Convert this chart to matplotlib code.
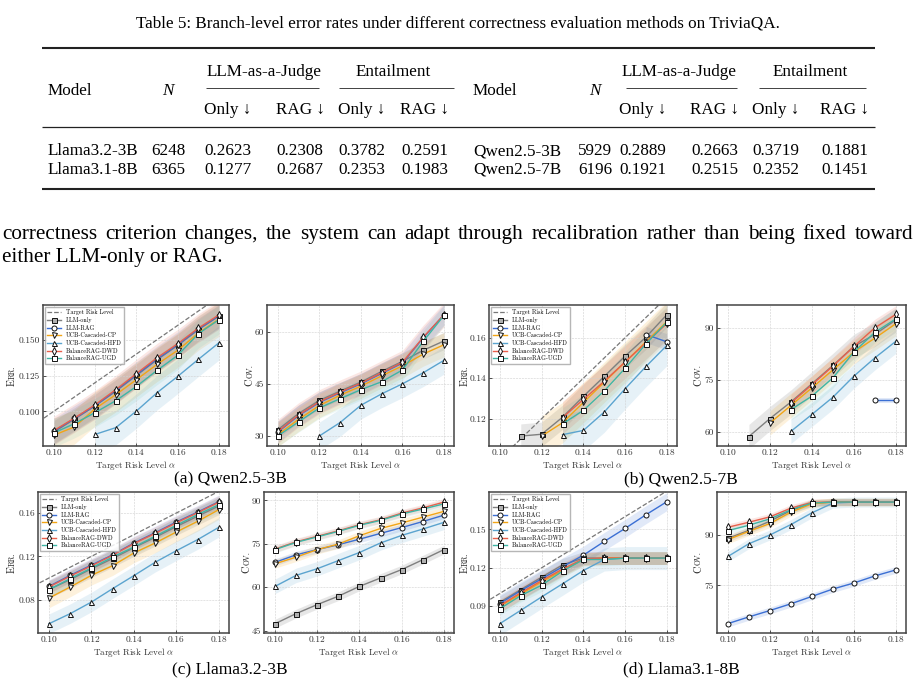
import numpy as np
import matplotlib
matplotlib.use("Agg")
import matplotlib.pyplot as plt
from matplotlib.ticker import FormatStrFormatter

W, H = 915, 681

plt.rcParams["font.family"] = ["cmr10", "DejaVu Serif"]
plt.rcParams["mathtext.fontset"] = "cm"
plt.rcParams["axes.formatter.use_mathtext"] = True

# ---------- table data ----------
table_caption = "Table 5: Branch-level error rates under different correctness evaluation methods on TriviaQA."
left_models = ["Llama3.2-3B", "Llama3.1-8B"]
left_n = [6248, 6365]
left_scores = [[0.2623, 0.2308, 0.3782, 0.2591],
               [0.1277, 0.2687, 0.2353, 0.1983]]
right_models = ["Qwen2.5-3B", "Qwen2.5-7B"]
right_n = [5929, 6196]
right_scores = [[0.2889, 0.2663, 0.3719, 0.1881],
                [0.1921, 0.2515, 0.2352, 0.1451]]

paragraph = ["correctness criterion changes, the system can adapt through recalibration rather than being fixed toward",
             "either LLM-only or RAG."]

# ---------- chart data ----------
alphas = [0.10, 0.11, 0.12, 0.13, 0.14, 0.15, 0.16, 0.17, 0.18]
methods = ["LLM-only", "LLM-RAG", "UCB-Cascaded-CP", "UCB-Cascaded-HFD", "BalanceRAG-DWD", "BalanceRAG-UGD"]
colors = ["#7f7f7f", "#3b6fd4", "#f2a516", "#5ba4cf", "#e8604c", "#3fb5a5"]
markers = ["s", "o", "v", "^", "d", "s"]
band_alpha = [0.18, 0.15, 0.15, 0.15, 0.15, 0.10]
N_ = None

qwen3_err = {
    "LLM-only": [0.0855, 0.0945, 0.1038, 0.1140, 0.1250, 0.1360, 0.1460, 0.1570, 0.1665],
    "LLM-RAG": [0.0860, 0.0950, 0.1040, 0.1145, 0.1255, 0.1365, 0.1465, 0.1575, 0.1668],
    "UCB-Cascaded-CP": [0.0833, 0.0891, 0.1018, 0.1116, 0.1221, 0.1328, 0.1426, 0.1547, 0.1644],
    "UCB-Cascaded-HFD": [N_, N_, 0.0839, 0.0886, 0.1002, 0.1130, 0.1244, 0.1363, 0.1479],
    "BalanceRAG-DWD": [0.0865, 0.0953, 0.1046, 0.1151, 0.1263, 0.1374, 0.1472, 0.1581, 0.1674],
    "BalanceRAG-UGD": [0.0849, 0.0914, 0.0991, 0.1074, 0.1174, 0.1286, 0.1391, 0.1542, 0.1640],
}
qwen3_cov = {
    "LLM-only": [31.7, 36.4, 40.2, 42.9, 45.5, 48.6, 51.5, 54.7, 57.4],
    "LLM-RAG": [31.0, 35.8, 39.6, 42.4, 45.0, 48.0, 51.0, 58.3, 65.0],
    "UCB-Cascaded-CP": [30.3, 34.7, 38.7, 41.7, 44.3, 47.3, 50.2, 53.6, 56.3],
    "UCB-Cascaded-HFD": [N_, N_, 29.9, 33.8, 38.8, 42.1, 45.0, 48.2, 51.8],
    "BalanceRAG-DWD": [31.2, 36.0, 39.8, 42.6, 45.2, 48.2, 51.2, 58.5, 65.0],
    "BalanceRAG-UGD": [29.9, 34.0, 38.0, 40.7, 43.3, 45.6, 49.0, 57.3, 64.8],
}
qwen7_err = {
    "LLM-only": [N_, 0.1114, 0.1123, 0.1207, 0.1310, 0.1409, 0.1509, 0.1603, 0.1714],
    "LLM-RAG": [N_, N_, N_, N_, N_, N_, N_, 0.1615, 0.1579],
    "UCB-Cascaded-CP": [N_, N_, 0.1114, 0.1180, 0.1280, 0.1380, 0.1480, 0.1580, 0.1680],
    "UCB-Cascaded-HFD": [N_, N_, N_, 0.1121, 0.1142, 0.1233, 0.1348, 0.1458, 0.1562],
    "BalanceRAG-DWD": [N_, N_, N_, 0.1205, 0.1295, 0.1385, 0.1480, 0.1575, 0.1670],
    "BalanceRAG-UGD": [N_, N_, N_, 0.1174, 0.1241, 0.1337, 0.1449, 0.1570, 0.1677],
}
qwen7_cov = {
    "LLM-only": [N_, 58.6, 63.8, 68.6, 73.9, 79.2, 84.7, 88.2, 92.4],
    "LLM-RAG": [N_, N_, N_, N_, N_, N_, N_, 69.1, 69.1],
    "UCB-Cascaded-CP": [N_, N_, 62.5, 67.6, 72.7, 77.9, 83.1, 87.1, 91.3],
    "UCB-Cascaded-HFD": [N_, N_, N_, 60.1, 65.0, 70.0, 76.1, 81.4, 86.2],
    "BalanceRAG-DWD": [N_, N_, N_, 68.3, 73.6, 79.0, 84.7, 90.1, 94.0],
    "BalanceRAG-UGD": [N_, N_, N_, 66.4, 70.3, 75.6, 83.1, 88.8, 92.7],
}
llama3_err = {
    "LLM-only": [0.0895, 0.0985, 0.1085, 0.1180, 0.1280, 0.1375, 0.1475, 0.1570, 0.1665],
    "LLM-RAG": [0.0923, 0.1025, 0.1120, 0.1215, 0.1323, 0.1418, 0.1517, 0.1609, 0.1705],
    "UCB-Cascaded-CP": [0.0815, 0.0917, 0.1025, 0.1114, 0.1231, 0.1323, 0.1425, 0.1523, 0.1631],
    "UCB-Cascaded-HFD": [0.0578, 0.0671, 0.0778, 0.0902, 0.1022, 0.1145, 0.1252, 0.1354, 0.1468],
    "BalanceRAG-DWD": [0.0918, 0.1018, 0.1113, 0.1210, 0.1318, 0.1412, 0.1510, 0.1603, 0.1700],
    "BalanceRAG-UGD": [0.0892, 0.0994, 0.1092, 0.1194, 0.1286, 0.1385, 0.1486, 0.1585, 0.1677],
}
llama3_cov = {
    "LLM-only": [47.4, 50.9, 54.0, 56.9, 60.3, 63.2, 66.1, 69.5, 73.0],
    "LLM-RAG": [68.6, 71.2, 73.0, 74.7, 76.6, 78.6, 80.6, 82.7, 84.9],
    "UCB-Cascaded-CP": [68.1, 70.4, 73.0, 74.9, 77.8, 80.3, 82.2, 84.2, 86.2],
    "UCB-Cascaded-HFD": [60.3, 64.1, 66.4, 69.2, 72.0, 75.3, 77.9, 80.1, 82.4],
    "BalanceRAG-DWD": [73.2, 75.7, 77.6, 79.5, 81.6, 83.3, 85.6, 87.4, 89.4],
    "BalanceRAG-UGD": [73.0, 75.5, 77.4, 79.3, 81.4, 83.1, 85.3, 87.0, 88.8],
}
llama8_err = {
    "LLM-only": [0.0931, 0.1030, 0.1127, 0.1223, 0.1276, 0.1276, 0.1276, 0.1276, 0.1276],
    "LLM-RAG": [0.0921, 0.1022, 0.1114, 0.1208, 0.1299, 0.1406, 0.1508, 0.1615, 0.1717],
    "UCB-Cascaded-CP": [0.0900, 0.0995, 0.1090, 0.1180, 0.1265, 0.1276, 0.1276, 0.1276, 0.1276],
    "UCB-Cascaded-HFD": [0.0764, 0.0868, 0.0973, 0.1075, 0.1179, 0.1265, 0.1276, 0.1276, 0.1276],
    "BalanceRAG-DWD": [0.0905, 0.1005, 0.1100, 0.1190, 0.1270, 0.1276, 0.1276, 0.1276, 0.1276],
    "BalanceRAG-UGD": [0.0881, 0.0983, 0.1064, 0.1174, 0.1265, 0.1265, 0.1276, 0.1276, 0.1276],
}
llama8_cov = {
    "LLM-only": [89.0, 91.4, 94.1, 97.3, 99.5, 99.8, 99.8, 99.8, 99.8],
    "LLM-RAG": [63.6, 65.6, 67.5, 69.5, 71.7, 73.9, 75.7, 77.8, 79.6],
    "UCB-Cascaded-CP": [88.6, 91.1, 93.4, 96.8, 99.3, 99.8, 99.8, 99.8, 99.8],
    "UCB-Cascaded-HFD": [83.6, 87.4, 90.0, 93.1, 96.6, 99.5, 99.8, 99.8, 99.8],
    "BalanceRAG-DWD": [92.3, 93.8, 95.4, 98.0, 99.7, 99.8, 99.8, 99.8, 99.8],
    "BalanceRAG-UGD": [91.3, 92.9, 94.8, 97.5, 99.5, 99.8, 99.8, 99.8, 99.8],
}

# estimated half-width of the shaded bands (same order as methods)
qwen3_err_sd = [0.008, 0.009, 0.012, 0.012, 0.010, 0.010]
qwen3_cov_sd = [2.5, 3.0, 3.5, 4.0, 3.5, 3.0]
qwen7_err_sd = [0.006, 0.004, 0.010, 0.010, 0.008, 0.008]
qwen7_cov_sd = [3.5, 0.7, 3.5, 3.5, 2.5, 3.0]
llama3_err_sd = [0.008, 0.006, 0.009, 0.009, 0.006, 0.007]
llama3_cov_sd = [1.5, 1.2, 1.5, 2.5, 1.2, 1.2]
llama8_err_sd = [0.005, 0.007, 0.005, 0.009, 0.005, 0.005]
llama8_cov_sd = [1.0, 1.0, 1.2, 1.5, 1.0, 1.0]

captions = ["(a) Qwen2.5-3B", "(b) Qwen2.5-7B", "(c) Llama3.2-3B", "(d) Llama3.1-8B"]

fig = plt.figure(figsize=(W / 100, H / 100), dpi=100)

# background axes in pixel coordinates for the page text
bg = fig.add_axes([0, 0, 1, 1])
bg.set_xlim(0, W)
bg.set_ylim(H, 0)
bg.axis("off")

TIMES = "Liberation Serif"
tf = dict(family=TIMES, fontsize=12.3, va="center_baseline")

# ---------- table ----------
bg.text(W / 2, 22, table_caption, ha="center", **tf)
for y, lw in [(48, 1.5), (127, 0.9), (189, 1.5)]:
    bg.plot([42, 875], [y, y], color="#222222", lw=lw, solid_capstyle="butt")

col_x = [228, 300, 362, 425, 643, 715, 776, 845]
for x0, x1 in [(206, 319), (339, 454), (626, 737), (759, 866)]:
    bg.plot([x0, x1], [88, 88], color="#222222", lw=0.6, solid_capstyle="butt")
for k, (mx, nx) in enumerate([(48, 168), (473, 595)]):
    bg.text(mx, 89, "Model", ha="left", **tf)
    bg.text(nx, 89, "N", ha="center", style="italic", **tf)
    bg.text((col_x[4 * k] + col_x[4 * k + 1]) / 2, 70, "LLM-as-a-Judge", ha="center", **tf)
    bg.text((col_x[4 * k + 2] + col_x[4 * k + 3]) / 2, 70, "Entailment", ha="center", **tf)
    for j, head in enumerate(["Only \u2193", "RAG \u2193", "Only \u2193", "RAG \u2193"]):
        bg.text(col_x[4 * k + j], 108, head, ha="center", **tf)

for i, y in enumerate([149, 168]):
    bg.text(48, y, left_models[i], ha="left", **tf)
    bg.text(168, y, str(left_n[i]), ha="center", **tf)
    bg.text(473, y, right_models[i], ha="left", **tf)
    bg.text(595, y, str(right_n[i]), ha="center", **tf)
    for j in range(4):
        bg.text(col_x[j], y, f"{left_scores[i][j]:.4f}", ha="center", **tf)
        bg.text(col_x[4 + j], y, f"{right_scores[i][j]:.4f}", ha="center", **tf)

# ---------- paragraph (first line justified) ----------
pf = dict(family=TIMES, fontsize=15.2, va="center_baseline")
renderer = fig.canvas.get_renderer()
words = paragraph[0].split()
arts = [bg.text(0, 232, w, ha="left", **pf) for w in words]
widths = [a.get_window_extent(renderer).width for a in arts]
gap = (913 - 2 - sum(widths)) / (len(words) - 1)
x = 2
for a, w in zip(arts, widths):
    a.set_x(x)
    x += w + gap
bg.text(2, 255, paragraph[1], ha="left", **pf)


# ---------- charts ----------
def px_axes(x0, y0, x1, y1):
    return fig.add_axes([x0 / W, 1 - y1 / H, (x1 - x0) / W, (y1 - y0) / H])


def sc_label(ax, first, rest, dx):
    t1 = ax.annotate(first, xy=(0, 0.5), xycoords="axes fraction", xytext=(-dx, -7.5),
                     textcoords="offset points", rotation=90, ha="right", va="bottom",
                     fontsize=7.4, color="#222222")
    ax.annotate(rest, xy=(1, 1), xycoords=t1, rotation=90, ha="right", va="bottom",
                fontsize=5.6, color="#222222")


def draw_panel(ax, data, sd, ylim, yticks, yfmt, is_err, dx):
    x = np.array(alphas)
    if is_err:
        t = np.array([0.09, 0.19])
        ax.plot(t, t, ls="--", color="#777777", lw=0.9, label="Target Risk Level", zorder=2)
    for m, c, mk, s, ba in zip(methods, colors, markers, sd, band_alpha):
        y = np.array(data[m], dtype=float)
        ax.fill_between(x, y - s, y + s, color=c, alpha=ba, lw=0, zorder=1)
        face = "#b0b0b0" if m == "LLM-only" else "white"
        ax.plot(x, y, color=c, lw=1.0, marker=mk, ms=3.6, mfc=face, mec="#111111",
                mew=0.7, label=m, zorder=3)
    ax.set_xlim(0.0948, 0.1848)
    ax.set_ylim(*ylim)
    ax.set_xticks([0.10, 0.12, 0.14, 0.16, 0.18])
    ax.xaxis.set_major_formatter(FormatStrFormatter("%.2f"))
    ax.set_yticks(yticks)
    ax.yaxis.set_major_formatter(FormatStrFormatter(yfmt))
    ax.grid(True, ls="--", lw=0.4, color="#d0d0d0")
    ax.tick_params(direction="in", length=2, width=0.6, labelsize=6.8, pad=2,
                   colors="#333333", labelcolor="#333333")
    for sp in ax.spines.values():
        sp.set_linewidth(1.1)
        sp.set_color("#444444")
    ax.set_xlabel(r"Target Risk Level $\alpha$", fontsize=6.5, labelpad=1, color="#333333")
    if is_err:
        sc_label(ax, "E", "RR.", dx)
        ax.legend(loc="upper left", fontsize=4.4, frameon=True, framealpha=0.85,
                  edgecolor="#aaaaaa", fancybox=False, handlelength=2.2,
                  borderpad=0.4, labelspacing=0.3, borderaxespad=0.3)
    else:
        sc_label(ax, "C", "OV.", dx)


panels = [
    ((43, 305, 229, 446), qwen3_err, qwen3_err_sd, (0.0758, 0.1742), [0.100, 0.125, 0.150], "%.3f", True, 19),
    ((267, 305, 454, 446), qwen3_cov, qwen3_cov_sd, (27.0, 67.8), [30, 45, 60], "%d", False, 9),
    ((489, 305, 677, 446), qwen7_err, qwen7_err_sd, (0.1065, 0.1761), [0.12, 0.14, 0.16], "%.2f", True, 14),
    ((717, 305, 906, 446), qwen7_cov, qwen7_cov_sd, (55.85, 96.7), [60, 75, 90], "%d", False, 10),
    ((38, 492, 229, 633), llama3_err, llama3_err_sd, (0.0492, 0.1794), [0.08, 0.12, 0.16], "%.2f", True, 15),
    ((264, 492, 454, 633), llama3_cov, llama3_cov_sd, (44.2, 92.9), [45, 60, 75, 90], "%d", False, 9),
    ((489, 492, 677, 633), llama8_err, llama8_err_sd, (0.0691, 0.1792), [0.09, 0.12, 0.15], "%.2f", True, 14),
    ((717, 492, 906, 633), llama8_cov, llama8_cov_sd, (60.8, 102.8), [75, 90], "%d", False, 10),
]
for box, data, sd, ylim, yticks, yfmt, is_err, dx in panels:
    ax = px_axes(*box)
    draw_panel(ax, data, sd, ylim, yticks, yfmt, is_err, dx)

for cap, (cx, cy) in zip(captions, [(230, 477), (681, 477), (230, 667), (681, 667)]):
    bg.text(cx, cy, cap, ha="center", family=TIMES, fontsize=12.5, va="center_baseline")

fig.savefig("out.png", dpi=100)
